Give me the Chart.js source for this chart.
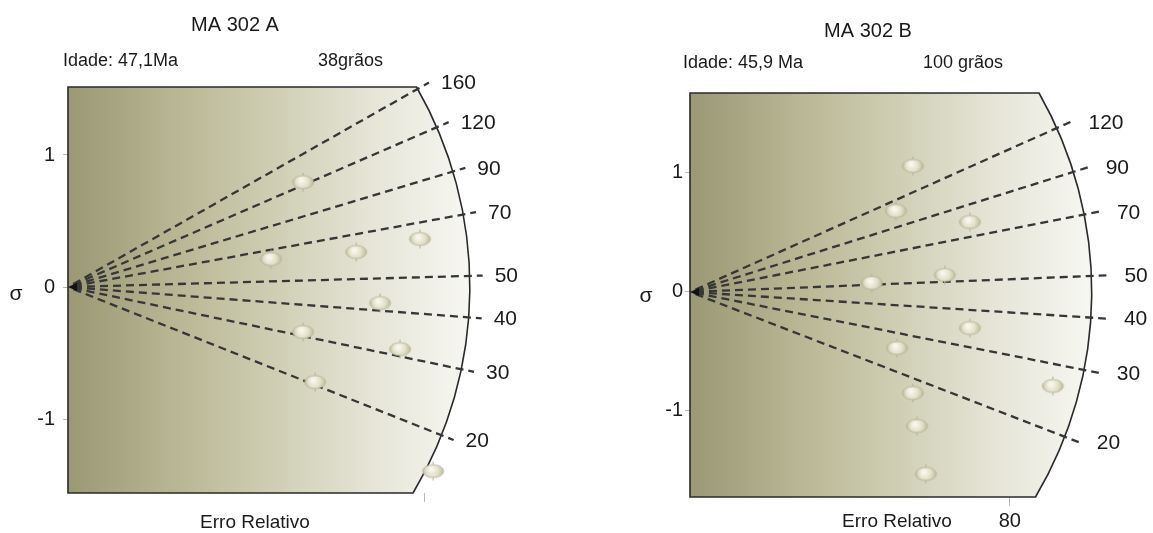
<!DOCTYPE html>
<html>
<head>
<meta charset="utf-8">
<script src="https://cdn.jsdelivr.net/npm/chart.js@4/dist/chart.umd.min.js"></script>
<style>
  body { margin: 0; background: #fff; }
  #wrap { position: relative; width: 1153px; height: 533px; }
  canvas { position: absolute; top: 0; }
  #radialA { left: 0; }
  #radialB { left: 576px; }
</style>
</head>
<body>
<div id="wrap">
  <canvas id="radialA" width="576" height="533"></canvas>
  <canvas id="radialB" width="577" height="533"></canvas>
</div>
<script>
// MA 302 A - precisao (1/erro relativo) e desvio padronizado de cada grao
const precisaoA = [0.825, 0.712, 1.011, 1.235, 1.095, 0.825, 1.165, 0.867, 1.281]
const sigmaA = [0.795, 0.212, 0.265, 0.364, -0.121, -0.341, -0.470, -0.720, -1.394]
const idadesA = [20, 30, 40, 50, 70, 90, 120, 160]
const idadeCentralA = 47.1
const graosA = 38
const arcoA = 1.41

// MA 302 B
const precisaoB = [0.871, 0.805, 1.094, 0.711, 0.996, 1.094, 0.809, 0.871, 0.887, 0.922, 1.418]
const sigmaB = [1.059, 0.681, 0.588, 0.076, 0.143, -0.303, -0.471, -0.849, -1.126, -1.529, -0.790]
const idadesB = [20, 30, 40, 50, 70, 90, 120]
const idadeCentralB = 45.9
const graosB = 100
const arcoB = 1.57

const sigmaTicks = [-1, 0, 1]
const erroTicks = [80] // erro relativo em %

const FONT = '"Liberation Sans", Arial, Helvetica, sans-serif'
Chart.defaults.font.family = FONT

// grao desenhado como elipse clara com pequenas barras de erro
function grainImage() {
    const w = 21, h = 13
    const c = document.createElement('canvas')
    c.width = w + 4
    c.height = h + 8
    const g = c.getContext('2d')
    const cx = c.width / 2, cy = c.height / 2
    g.strokeStyle = '#b3b198'
    g.lineWidth = 1
    g.beginPath()
    g.moveTo(cx, cy - h / 2 - 3); g.lineTo(cx, cy - h / 2)
    g.moveTo(cx, cy + h / 2); g.lineTo(cx, cy + h / 2 + 3)
    g.stroke()
    const rg = g.createRadialGradient(cx - 2, cy - 2, 1, cx, cy, w / 2)
    rg.addColorStop(0, '#f9f8ee')
    rg.addColorStop(0.55, '#e3e1ca')
    rg.addColorStop(1, '#bcb99b')
    g.beginPath()
    g.ellipse(cx, cy, w / 2, h / 2, 0, 0, Math.PI * 2)
    g.fillStyle = rg
    g.fill()
    g.lineWidth = 0.8
    g.strokeStyle = '#b0ae92'
    g.stroke()
    return c
}
const grao = grainImage()

const radialPlot = {
    id: 'radialPlot',
    beforeDatasetsDraw(chart, args, opts) {
        const { ctx, chartArea: a, scales: { x, y } } = chart
        const ox = x.getPixelForValue(0), oy = y.getPixelForValue(0)
        const kx = x.getPixelForValue(1) - ox
        const ky = oy - y.getPixelForValue(1)
        const r = x.getPixelForValue(opts.arco) - ox
        const aTop = Math.asin((a.top - oy) / r)
        const aBot = Math.asin((a.bottom - oy) / r)

        ctx.save()
        ctx.beginPath()
        ctx.moveTo(a.left, a.bottom)
        ctx.lineTo(a.left, a.top)
        ctx.lineTo(ox + r * Math.cos(aTop), a.top)
        ctx.arc(ox, oy, r, aTop, aBot)
        ctx.closePath()
        const grad = ctx.createLinearGradient(a.left, 0, ox + r, 0)
        grad.addColorStop(0, '#9b9874')
        grad.addColorStop(0.25, '#b6b491')
        grad.addColorStop(0.5, '#cecdb2')
        grad.addColorStop(0.75, '#e5e4d6')
        grad.addColorStop(1, '#f7f7f2')
        ctx.fillStyle = grad
        ctx.fill()
        ctx.lineWidth = 1.6
        ctx.strokeStyle = '#2a2a2a'
        ctx.stroke()

        // raios de idade
        ctx.setLineDash([8, 5])
        ctx.lineWidth = 2.3
        ctx.strokeStyle = '#363636'
        ctx.fillStyle = '#1a1a1a'
        ctx.font = '21px ' + FONT
        ctx.textBaseline = 'middle'
        ctx.textAlign = 'left'
        for (const t of opts.idades) {
            const s = Math.log(t / opts.t0)
            const n = Math.hypot(kx, ky * s)
            const ux = kx / n, uy = -ky * s / n
            const re = r + opts.extra
            ctx.beginPath()
            ctx.moveTo(ox + ux * 6, oy + uy * 6)
            ctx.lineTo(ox + ux * re, oy + uy * re)
            ctx.stroke()
            ctx.fillText(String(t), ox + ux * re + opts.gap, oy + uy * re + 1)
        }
        ctx.setLineDash([])

        // seta na origem
        ctx.beginPath()
        ctx.moveTo(ox, oy)
        ctx.lineTo(ox + 9, oy - 4)
        ctx.lineTo(ox + 9, oy + 4)
        ctx.closePath()
        ctx.fillStyle = '#111'
        ctx.fill()
        ctx.restore()
    },
    afterDraw(chart, args, opts) {
        const ctx = chart.ctx
        ctx.save()
        ctx.fillStyle = '#1a1a1a'
        ctx.textBaseline = 'middle'
        for (const t of opts.textos) {
            ctx.font = t.size + 'px ' + FONT
            ctx.textAlign = t.align
            ctx.fillText(t.text, t.x, t.y)
        }
        ctx.restore()
    }
}

function buildRadial(id, p) {
    return new Chart(document.getElementById(id), {
        type: 'scatter',
        data: {
            datasets: [{
                data: p.precisao.map((v, i) => ({ x: v, y: p.sigma[i] })),
                pointStyle: grao
            }]
        },
        options: {
            responsive: false,
            animation: false,
            events: [],
            layout: { padding: { top: p.top, right: p.right, left: 0, bottom: 0 } },
            scales: {
                x: {
                    type: 'linear',
                    min: 0,
                    max: p.xMax,
                    afterBuildTicks: s => { s.ticks = erroTicks.map(e => ({ value: 100 / e })) },
                    afterFit: s => { s.height = p.bottom },
                    grid: { drawOnChartArea: false, tickLength: 9, color: '#b8b8b8' },
                    border: { display: false },
                    ticks: {
                        padding: 3,
                        color: '#1a1a1a',
                        font: { size: 20 },
                        callback: v => p.erroLabel ? String(Math.round(100 / v)) : ''
                    }
                },
                y: {
                    min: p.yMin,
                    max: p.yMax,
                    afterBuildTicks: s => { s.ticks = sigmaTicks.map(v => ({ value: v })) },
                    afterFit: s => { s.width = p.left },
                    grid: { drawOnChartArea: false, tickLength: 5, color: '#b8b8b8' },
                    border: { display: false },
                    ticks: { padding: p.tickPad, color: '#1a1a1a', font: { size: 20 } }
                }
            },
            plugins: {
                legend: { display: false },
                tooltip: { enabled: false },
                radialPlot: {
                    t0: p.t0, idades: p.idades, arco: p.arco,
                    extra: p.extra, gap: p.gap, textos: p.textos
                }
            }
        },
        plugins: [radialPlot]
    })
}

buildRadial('radialA', {
    precisao: precisaoA, sigma: sigmaA, idades: idadesA, t0: idadeCentralA, arco: arcoA,
    xMax: 1.6, yMin: -1.56, yMax: 1.515,
    top: 87, right: 52, bottom: 40, left: 68, tickPad: 8,
    extra: 13, gap: 12, erroLabel: false,
    textos: [
        { text: 'MA 302 A', x: 235, y: 25, size: 20, align: 'center' },
        { text: 'Idade: ' + String(idadeCentralA).replace('.', ',') + 'Ma', x: 63, y: 61, size: 18, align: 'left' },
        { text: graosA + 'grãos', x: 318, y: 61, size: 18, align: 'left' },
        { text: 'Erro Relativo', x: 255, y: 523, size: 19, align: 'center' },
        { text: 'σ', x: 16, y: 294, size: 21, align: 'center' }
    ]
})

buildRadial('radialB', {
    precisao: precisaoB, sigma: sigmaB, idades: idadesB, t0: idadeCentralB, arco: arcoB,
    xMax: 1.7, yMin: -1.723, yMax: 1.672,
    top: 93, right: 28, bottom: 36, left: 114, tickPad: 2,
    extra: 15, gap: 18, erroLabel: true,
    textos: [
        { text: 'MA 302 B', x: 292, y: 31, size: 20, align: 'center' },
        { text: 'Idade: ' + String(idadeCentralB).replace('.', ',') + ' Ma', x: 107, y: 63, size: 18, align: 'left' },
        { text: graosB + ' grãos', x: 347, y: 63, size: 18, align: 'left' },
        { text: 'Erro Relativo', x: 321, y: 522, size: 19, align: 'center' },
        { text: 'σ', x: 70, y: 296, size: 21, align: 'center' }
    ]
})
</script>
</body>
</html>
